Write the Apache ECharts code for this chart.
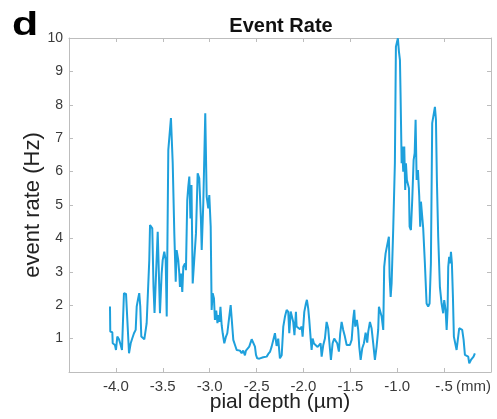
<!DOCTYPE html>
<html>
<head>
<meta charset="utf-8">
<script src="https://cdn.jsdelivr.net/npm/echarts@6/dist/echarts.min.js"></script>
<style>
  html, body { margin: 0; padding: 0; background: #fff; }
  #chart { width: 497px; height: 419px; }
</style>
</head>
<body>
<div id="chart"></div>
<script>
// Pial depth (mm) of each sample
const depth = [
  -4.063, -4.060, -4.038, -4.034, -4.010, -3.999, -3.985, -3.967, -3.949, -3.935,
  -3.921, -3.914, -3.892, -3.878, -3.860, -3.842, -3.825, -3.807, -3.789, -3.778,
  -3.764, -3.751, -3.740, -3.729, -3.708, -3.697, -3.682, -3.672, -3.655, -3.644,
  -3.636, -3.612, -3.599, -3.588, -3.554, -3.530, -3.512, -3.501, -3.484, -3.469,
  -3.458, -3.441, -3.423, -3.413, -3.394, -3.377, -3.362, -3.352, -3.335, -3.324,
  -3.317, -3.306, -3.292, -3.281, -3.263, -3.253, -3.239, -3.228, -3.217, -3.205,
  -3.194, -3.181, -3.167, -3.146, -3.128, -3.111, -3.093, -3.085, -3.068, -3.058,
  -3.047, -3.032, -3.015, -3.004, -2.989, -2.979, -2.968, -2.954, -2.944, -2.930,
  -2.917, -2.906, -2.896, -2.885, -2.872, -2.861, -2.844, -2.826, -2.812, -2.791,
  -2.776, -2.759, -2.748, -2.730, -2.712, -2.695, -2.677, -2.659, -2.642, -2.624,
  -2.613, -2.599, -2.578, -2.563, -2.552, -2.535, -2.517, -2.506, -2.493, -2.471,
  -2.453, -2.429, -2.410, -2.392, -2.375, -2.357, -2.339, -2.322, -2.304, -2.286,
  -2.269, -2.251, -2.232, -2.215, -2.197, -2.179, -2.162, -2.151, -2.136, -2.119,
  -2.109, -2.096, -2.080, -2.073, -2.055, -2.037, -2.019, -2.009, -1.991, -1.973,
  -1.963, -1.949, -1.938, -1.923, -1.913, -1.902, -1.888, -1.870, -1.849, -1.835,
  -1.817, -1.806, -1.789, -1.771, -1.753, -1.736, -1.721, -1.707, -1.689, -1.672,
  -1.657, -1.640, -1.622, -1.608, -1.593, -1.576, -1.558, -1.539, -1.522, -1.504,
  -1.486, -1.469, -1.458, -1.448, -1.430, -1.416, -1.405, -1.390, -1.373, -1.355,
  -1.337, -1.320, -1.309, -1.291, -1.273, -1.256, -1.238, -1.220, -1.203, -1.195,
  -1.177, -1.166, -1.156, -1.149, -1.139, -1.124, -1.107, -1.089, -1.081, -1.070,
  -1.060, -1.043, -1.025, -1.014, -1.003, -0.993, -0.982, -0.971, -0.964, -0.953,
  -0.947, -0.936, -0.925, -0.915, -0.907, -0.897, -0.889, -0.875, -0.868, -0.854,
  -0.840, -0.825, -0.814, -0.804, -0.793, -0.779, -0.765, -0.755, -0.747, -0.737,
  -0.723, -0.705, -0.687, -0.670, -0.655, -0.641, -0.627, -0.609, -0.598, -0.587,
  -0.577, -0.563, -0.545, -0.527, -0.510, -0.499, -0.484, -0.473, -0.463, -0.456,
  -0.446, -0.435, -0.427, -0.417, -0.406, -0.396, -0.377, -0.367, -0.350, -0.339,
  -0.321, -0.307, -0.292, -0.278, -0.260, -0.243, -0.232, -0.214, -0.200, -0.186,
  -0.172
];

// Event rate (Hz) at each depth
const rate = [
  1.96, 1.21, 1.19, 0.86, 0.81, 0.66, 1.06, 0.98, 0.81, 0.66,
  0.66, 2.36, 2.34, 2.29, 0.56, 0.86, 1.01, 1.16, 1.26, 1.96,
  2.18, 2.36, 1.96, 1.06, 1.01, 0.98, 1.26, 1.46, 1.46, 3.35,
  4.40, 4.30, 2.55, 1.77, 4.20, 1.76, 2.95, 3.35, 3.60, 3.35,
  1.66, 6.65, 6.60, 7.60, 6.25, 4.15, 2.70, 3.65, 3.35, 2.95,
  2.55, 2.95, 2.40, 3.15, 3.25, 3.05, 5.15, 5.55, 5.85, 4.60,
  5.60, 2.65, 3.25, 4.15, 5.95, 5.80, 4.55, 3.65, 5.05, 5.00,
  7.75, 5.25, 4.90, 5.30, 4.35, 1.86, 2.36, 2.20, 1.56, 1.84,
  1.46, 1.70, 1.50, 1.95, 1.40, 1.16, 0.86, 1.06, 1.16, 1.66,
  2.00, 1.96, 0.96, 0.81, 0.66, 0.62, 0.64, 0.56, 0.64, 0.50,
  0.64, 0.66, 0.76, 0.80, 0.98, 0.94, 0.76, 0.51, 0.41, 0.40,
  0.44, 0.44, 0.45, 0.46, 0.54, 0.60, 0.76, 0.78, 1.16, 0.78,
  1.00, 0.41, 0.50, 1.36, 1.66, 1.86, 1.80, 1.16, 1.81, 1.76,
  1.50, 1.10, 1.80, 1.36, 1.36, 1.28, 1.36, 1.06, 1.80, 2.06,
  2.16, 1.90, 1.56, 1.00, 0.66, 1.00, 0.85, 0.90, 0.75, 0.80,
  0.86, 0.46, 0.80, 1.00, 1.50, 1.30, 0.80, 0.36, 0.86, 1.00,
  0.95, 0.86, 0.61, 1.16, 1.50, 1.26, 1.06, 0.81, 0.76, 0.81,
  0.96, 1.60, 1.86, 1.36, 1.56, 1.26, 0.76, 0.36, 0.71, 0.86,
  1.18, 0.88, 1.21, 1.50, 1.30, 0.86, 0.36, 0.76, 1.26, 1.95,
  1.95, 1.66, 1.70, 1.26, 3.15, 3.55, 3.80, 4.05, 2.85, 2.25,
  2.65, 4.25, 6.25, 9.74, 9.76, 9.99, 9.60, 9.34, 8.24, 6.25,
  6.75, 6.00, 6.75, 5.45, 6.25, 5.75, 5.80, 5.50, 4.35, 4.25,
  5.15, 6.35, 6.55, 7.55, 5.75, 6.05, 5.25, 4.35, 5.10, 5.05,
  4.30, 3.25, 2.05, 1.96, 2.05, 3.25, 7.45, 7.50, 7.94, 7.55,
  5.75, 4.05, 2.55, 2.05, 1.76, 2.15, 1.86, 1.26, 1.86, 3.15,
  3.45, 3.25, 3.60, 3.25, 2.25, 1.06, 1.06, 0.66, 0.66, 1.31,
  1.36, 1.26, 0.96, 0.51, 0.46, 0.46, 0.26, 0.36, 0.31, 0.46,
  0.56
];

// Axis ranges and tick text
const depthMin = -4.5, depthMax = 0, depthStep = 0.5;
const rateMin = 0, rateMax = 10, rateStep = 1;
const depthTickLabels = {
  '-4': '-4.0', '-3.5': '-3.5', '-3': '-3.0', '-2.5': '-2.5',
  '-2': '-2.0', '-1.5': '-1.5', '-1': '-1.0', '-0.5': '-.5'
};

const FONT = '"Liberation Sans", Arial, Helvetica, sans-serif';
const AXIS_GRAY = '#bdbdbd';
const TEXT_GRAY = '#3a3a3a';
const LINE_BLUE = '#1ea0dc';

const chart = echarts.init(document.getElementById('chart'), null, { renderer: 'canvas' });

const frameAxis = () => ({
  axisLine: { show: true, onZero: false, lineStyle: { color: AXIS_GRAY, width: 1 } },
  axisTick: { show: true, inside: true, length: 4, lineStyle: { color: AXIS_GRAY, width: 1 } },
  splitLine: { show: false }
});

chart.setOption({
  animation: false,
  backgroundColor: '#fff',
  title: {
    text: 'Event Rate',
    left: 276,
    top: 11,
    textAlign: 'center',
    textStyle: { fontFamily: FONT, fontSize: 20, fontWeight: 'bold', color: '#111' }
  },
  grid: {
    left: 69, right: 6, top: 38, bottom: 47,
    containLabel: false, outerBoundsMode: 'none'
  },
  xAxis: [
    Object.assign(frameAxis(), {
      type: 'value', position: 'bottom',
      min: depthMin, max: depthMax, interval: depthStep,
      name: 'pial depth (\u00b5m)',
      nameLocation: 'middle', nameGap: 20, nameMoveOverlap: false,
      nameTextStyle: { fontFamily: FONT, fontSize: 21, color: '#222' },
      axisLabel: {
        show: true, margin: 7, fontFamily: FONT, fontSize: 15, color: TEXT_GRAY,
        formatter: v => depthTickLabels[String(Math.round(v * 10) / 10)] || ''
      }
    }),
    Object.assign(frameAxis(), {
      type: 'value', position: 'top',
      min: depthMin, max: depthMax, interval: depthStep,
      axisLabel: { show: false }
    })
  ],
  yAxis: [
    Object.assign(frameAxis(), {
      type: 'value', position: 'left',
      min: rateMin, max: rateMax, interval: rateStep,
      name: 'event rate (Hz)',
      nameLocation: 'middle', nameGap: 25, nameMoveOverlap: false,
      nameTextStyle: { fontFamily: FONT, fontSize: 22, color: '#222' },
      axisLabel: {
        show: true, margin: 6, fontFamily: FONT, fontSize: 14, color: TEXT_GRAY,
        formatter: v => (v === 0 ? '' : String(v))
      }
    }),
    Object.assign(frameAxis(), {
      type: 'value', position: 'right',
      min: rateMin, max: rateMax, interval: rateStep,
      axisLabel: { show: false }
    })
  ],
  graphic: [
    {
      type: 'text', left: 12, top: 9, scaleX: 1.3,
      style: { text: 'd', fontFamily: FONT, fontSize: 33, fontWeight: 'bold', fill: '#000' }
    },
    {
      type: 'text', left: 456, top: 379,
      style: { text: '(mm)', fontFamily: FONT, fontSize: 15, fill: TEXT_GRAY }
    }
  ],
  series: [{
    type: 'line',
    xAxisIndex: 0, yAxisIndex: 0,
    data: depth.map((d, i) => [d, rate[i]]),
    showSymbol: false,
    smooth: false,
    lineStyle: { color: LINE_BLUE, width: 2 },
    itemStyle: { color: LINE_BLUE },
    emphasis: { disabled: true }
  }]
});
</script>
</body>
</html>
